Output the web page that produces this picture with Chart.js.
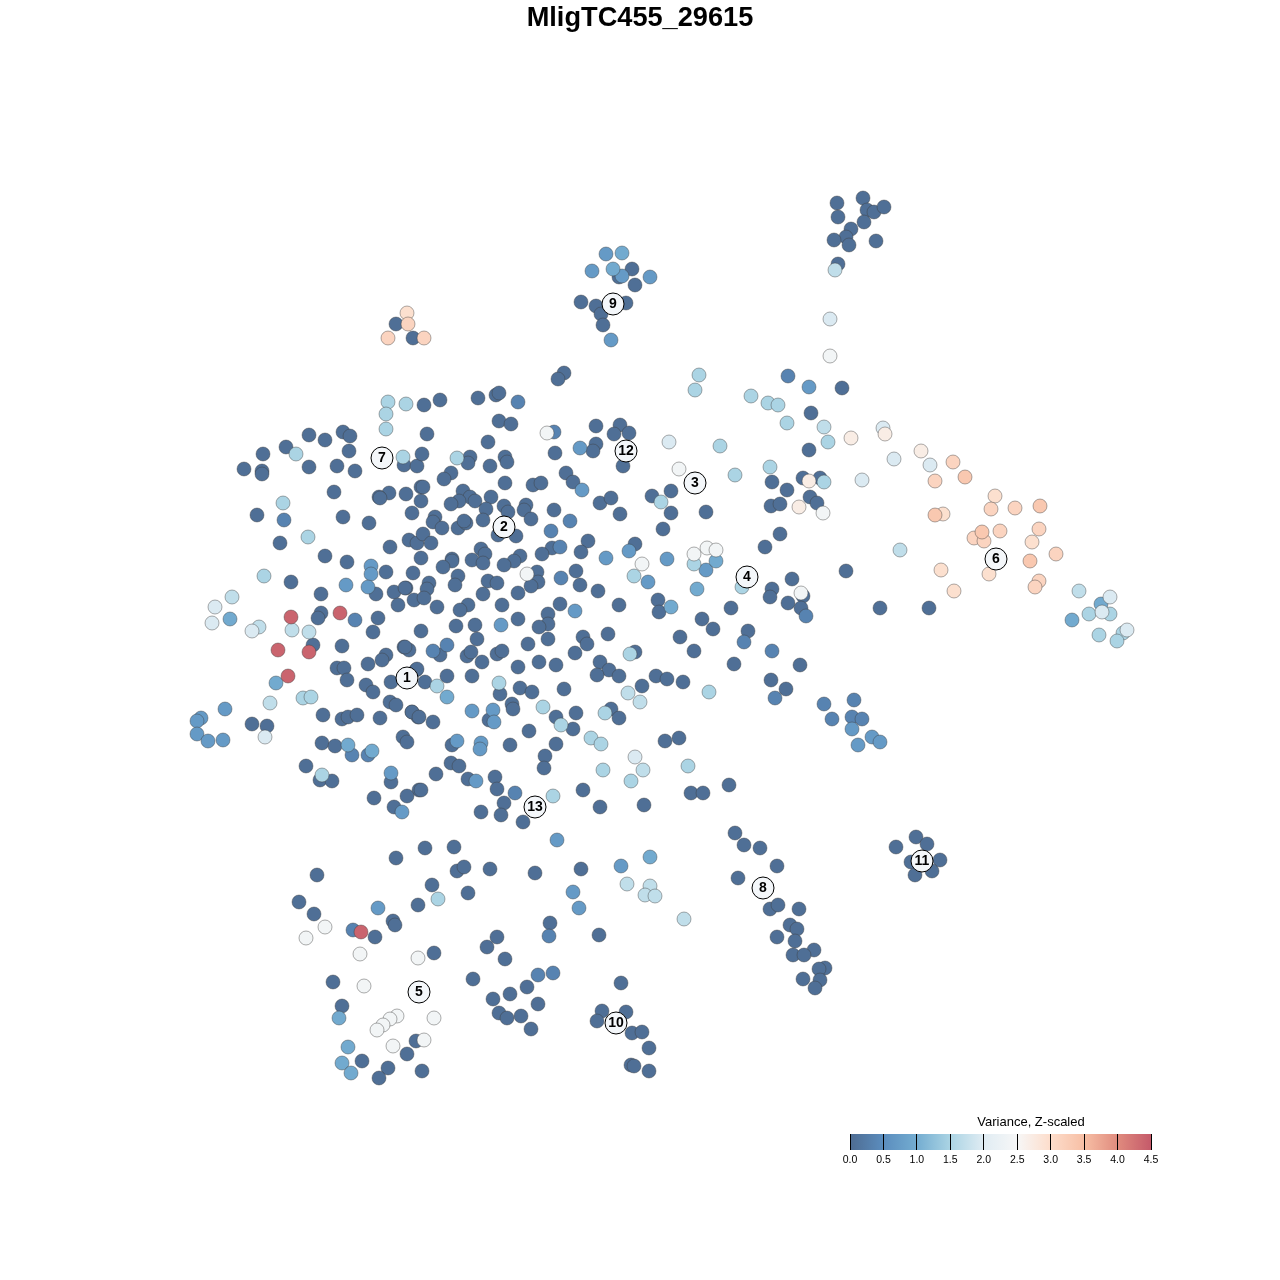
<!DOCTYPE html>
<html>
<head>
<meta charset="utf-8">
<title>MligTC455_29615</title>
<script src="https://cdn.jsdelivr.net/npm/chart.js@4/dist/chart.umd.min.js"></script>
<style>
    body { margin: 0; background: #fff; }
    #plot { position: absolute; left: 0; top: 0; }
    #key { position: absolute; left: 830px; top: 1105px; }
</style>
</head>
<body>
<canvas id="plot" width="1280" height="1280"></canvas>
<canvas id="key" width="402" height="61"></canvas>
<script>
// cells as [tsne x, tsne y], grouped by their variance level
const cellsDark = [
    [309,435],[325,440],[343,432],[350,436],[286,447],[263,454],[349,451],[244,469],[262,471],[262,474],[309,467],[337,466],[355,471],[334,492],[389,493],[379,497],[380,498],[406,494],[343,517],[369,523],[257,515],[280,543],[325,556],[347,562],[390,547],[386,572],[413,573],[291,582],[321,594],[376,594],[394,592],[406,588],[398,605],[414,600],[378,618],[321,613],[318,618],[404,465],[417,466],[412,513],[409,540],[417,543],[421,487],[421,501],[421,558],[422,454],
    [373,632],[313,645],[342,646],[404,647],[409,650],[386,655],[382,660],[368,664],[337,668],[344,668],[347,680],[366,685],[373,692],[391,682],[416,670],[390,702],[396,705],[323,715],[342,719],[348,717],[357,715],[380,718],[412,712],[418,717],[252,724],[267,726],[403,737],[407,742],[322,743],[335,746],[306,766],[320,780],[332,781],[391,782],[419,790],[407,796],[374,798],[394,807],
    [424,405],[440,400],[478,398],[496,395],[499,393],[564,373],[558,379],[499,421],[511,424],[427,434],[596,426],[620,425],[629,433],[614,434],[488,442],[596,444],[593,451],[555,453],[623,466],[470,457],[468,463],[490,466],[505,457],[507,462],[566,473],[573,482],[451,473],[444,479],[505,483],[533,485],[541,483],[423,487],[463,491],[470,497],[459,501],[451,504],[475,501],[491,497],[504,506],[508,512],[526,505],[524,510],[486,509],[554,510],[600,503],[611,498],[620,514],[483,520],[531,519],[435,517],[433,522],[442,528],[458,528],[466,523],[464,521],[498,535],[516,536],[423,534],[431,543],[588,541],[552,548],[542,554],[581,552],[635,544],[481,549],[485,554],[472,560],[483,563],[452,559],[452,561],[443,567],[520,556],[514,561],[504,565],[458,576],[455,585],[488,581],[497,583],[537,572],[538,582],[531,586],[576,571],[580,585],[598,591],[518,593],[483,594],[429,583],[427,589],[424,598],[405,588],[437,607],[468,605],[460,610],[502,605],[560,604],[619,605],[548,614],[518,619],
    [548,624],[539,627],[456,626],[475,625],[421,631],[477,639],[583,637],[587,644],[608,634],[528,644],[548,639],[575,653],[405,647],[440,655],[467,656],[471,652],[482,662],[497,654],[502,651],[518,667],[539,662],[556,665],[600,662],[609,670],[597,675],[619,676],[635,652],[417,669],[447,676],[472,676],[425,682],[500,694],[520,688],[532,692],[564,689],[611,709],[619,718],[576,713],[556,717],[573,729],[512,704],[513,709],[489,720],[412,712],[419,717],[433,722],[529,731],[556,744],[510,745],[452,745],[545,756],[544,768],[451,763],[459,766],[436,774],[468,779],[495,777],[497,789],[421,790],[583,790],[504,803],[600,807],[481,812],[501,815],[523,822],[644,805],
    [842,388],[811,413],[809,450],[772,482],[787,490],[803,478],[820,478],[652,496],[671,491],[671,513],[706,512],[663,529],[771,506],[780,504],[810,497],[817,503],[780,534],[765,547],[792,579],[846,571],[772,589],[770,597],[788,603],[803,596],[801,608],[731,608],[658,600],[659,612],[880,608],[929,608],
    [702,619],[713,629],[748,631],[680,637],[694,651],[734,664],[800,665],[656,676],[667,679],[683,682],[642,686],[771,680],[786,689],[665,741],[679,738],[729,785],[691,793],[703,793],[735,833],[744,845],[760,848],[777,866],[738,878],[916,837],[927,844],[896,847],[940,860],[911,862],[932,871],[915,875],
    [770,909],[778,905],[799,909],[790,925],[797,929],[777,937],[795,941],[814,950],[793,955],[804,955],[825,968],[819,969],[820,980],[803,979],[815,988],
    [396,858],[425,848],[454,847],[457,871],[464,867],[490,869],[535,873],[317,875],[432,885],[468,893],[299,902],[418,905],[314,914],[393,921],[395,925],[375,937],[497,937],[487,947],[434,953],[505,959],[333,982],[473,979],[527,987],[510,994],[493,999],[342,1006],[499,1013],[507,1018],[521,1016],[538,1004],[531,1029],[416,1041],[407,1054],[362,1061],[388,1068],[379,1078],[422,1071],
    [581,869],[550,923],[599,935],[621,983],[602,1011],[626,1012],[597,1021],[632,1033],[642,1032],[649,1048],[631,1065],[634,1066],[649,1071],
    [396,324],[413,338],[632,269],[635,285],[581,302],[596,306],[626,303],[601,314],[603,325],[619,277],
    [863,198],[837,203],[867,210],[874,212],[884,207],[838,217],[864,222],[851,229],[846,237],[834,240],[849,245],[876,241],[838,264]
];
const cellsBluish = [[284,520],[518,402],[554,432],[433,651],[447,645],[570,521],[551,531],[560,547],[561,578],[368,755],[352,755],[788,376],[772,651],[744,642],[775,698],[806,616],[824,704],[854,700],[832,719],[852,717],[862,719],[353,930],[538,975],[553,973],[549,936],[515,793],[355,620]];
const cellsMid = [[371,566],[371,574],[346,585],[368,587],[225,709],[201,718],[197,721],[197,734],[208,741],[223,740],[391,773],[402,812],[501,625],[472,711],[493,710],[494,722],[457,741],[481,743],[480,749],[476,781],[580,448],[582,490],[629,551],[606,558],[575,611],[667,559],[648,582],[706,570],[809,387],[852,729],[872,737],[880,742],[858,745],[606,254],[592,271],[622,276],[650,277],[611,340],[557,840],[378,908],[573,892],[579,908],[621,866]];
const cellsSky = [[230,619],[276,683],[348,745],[372,751],[697,589],[622,253],[613,269],[650,857],[339,1018],[348,1047],[342,1063],[351,1073],[1072,620],[716,561],[447,697],[671,607],[1101,604]];
const cellsPale = [[388,402],[406,404],[386,414],[386,429],[303,698],[311,697],[403,457],[457,458],[296,454],[308,537],[283,503],[264,576],[322,775],[437,686],[499,683],[543,707],[605,713],[561,725],[591,738],[601,744],[603,770],[631,781],[688,766],[553,796],[634,576],[661,502],[694,564],[699,375],[695,390],[751,396],[768,403],[778,405],[787,423],[828,442],[720,446],[770,467],[735,475],[824,482],[709,692],[630,654],[438,899],[1089,614],[1110,614],[1099,635],[1123,633],[1117,641],[742,587]];
const cellsPaler = [[232,597],[259,627],[292,630],[309,632],[270,703],[835,270],[628,693],[640,702],[643,770],[824,427],[627,884],[650,886],[645,895],[655,896],[684,919],[900,550],[1079,591]];
const cellsIce = [[215,607],[212,623],[252,631],[265,737],[669,442],[635,757],[830,319],[862,480],[894,459],[930,465],[1127,630],[1110,597],[1102,612],[883,428]];
const cellsWhite = [[547,433],[527,574],[642,564],[679,469],[707,548],[694,554],[716,550],[801,593],[823,513],[830,356],[325,927],[306,938],[360,954],[418,958],[364,986],[434,1018],[397,1016],[390,1019],[383,1025],[377,1030],[393,1046],[424,1040]];
const cellsBlush = [[885,434],[851,438],[921,451],[809,481],[799,507]];
const cellsPeach = [[995,496],[954,591],[941,570],[989,574],[1032,542],[407,313],[943,514]];
const cellsSalmon = [[953,462],[935,481],[991,509],[1015,508],[1039,529],[1000,531],[974,538],[984,541],[1056,554],[1039,581],[1035,587],[388,338],[424,338],[408,324]];
const cellsCoral = [[965,477],[1040,506],[935,515],[982,532],[1030,561]];
const cellsRed = [[291,617],[340,613],[309,652],[278,650],[288,676],[361,932]];

const levelValues = [0.05, 0.35, 0.7, 0.95, 1.5, 1.7, 1.95, 2.4, 2.7, 2.95, 3.15, 3.35, 4.4];
const levelCells = [cellsDark, cellsBluish, cellsMid, cellsSky, cellsPale, cellsPaler, cellsIce, cellsWhite, cellsBlush, cellsPeach, cellsSalmon, cellsCoral, cellsRed];

const clusterNames = ['1','2','3','4','5','6','7','8','9','10','11','12','13'];
const clusterX = [407,504,695,747,419,996,382,763,613,616,922,626,535];
const clusterY = [678,527,483,577,992,559,458,888,304,1023,861,451,807];

const keyTitle = 'Variance, Z-scaled';
const keyTicks = [0, 0.5, 1, 1.5, 2, 2.5, 3, 3.5, 4, 4.5];
const keyColors = ['#4e6c92','#5b8dbe','#74add1','#abd4e4','#e0ecf3','#f7f7f7','#fdddcb','#f7bfa5','#e08b7e','#c55a6a'];

function hexToRgb(hex) {
    return [1, 3, 5].map(i => parseInt(hex.slice(i, i + 2), 16));
}

function colorFor(value) {
    const pos = Math.min(value / 0.5, keyColors.length - 1.001);
    const i = Math.floor(pos);
    const a = hexToRgb(keyColors[i]);
    const b = hexToRgb(keyColors[i + 1]);
    const mix = a.map((c, k) => Math.round(c + (b[k] - c) * (pos - i)));
    return `rgb(${mix[0]}, ${mix[1]}, ${mix[2]})`;
}

// order: higher variance and the cluster circles have to end up on top
const cellDatasets = levelCells.map((cells, i) => ({
    label: 'Variance ' + levelValues[i],
    data: cells.map(c => ({ x: c[0], y: c[1] })),
    order: levelCells.length - i,
    backgroundColor: colorFor(levelValues[i]),
    borderColor: 'rgba(60, 60, 60, 0.42)',
    borderWidth: 1,
    pointRadius: 7,
    pointHoverRadius: 7
}));

const clusterDataset = {
    label: 'Clusters',
    data: clusterX.map((x, i) => ({ x: x, y: clusterY[i] })),
    order: 0,
    backgroundColor: '#f4f7fa',
    borderColor: '#000',
    borderWidth: 1,
    pointRadius: 11,
    pointHoverRadius: 11
};

// writes the cluster numbers on top of their circles
const clusterText = {
    id: 'clusterText',
    afterDatasetsDraw(chart) {
        const ctx = chart.ctx;
        ctx.save();
        ctx.font = 'bold 14px "Liberation Sans"';
        ctx.fillStyle = '#000';
        ctx.textAlign = 'center';
        ctx.textBaseline = 'middle';
        clusterNames.forEach((name, i) => {
            ctx.fillText(name, chart.scales.x.getPixelForValue(clusterX[i]), chart.scales.y.getPixelForValue(clusterY[i]) + 0.5);
        });
        ctx.restore();
    }
};

// key title sits at the middle of the canvas, not the middle of the bar
const keyHeading = {
    id: 'keyHeading',
    afterDraw(chart) {
        const ctx = chart.ctx;
        ctx.save();
        ctx.font = '13px "Liberation Sans"';
        ctx.fillStyle = '#000';
        ctx.textAlign = 'center';
        ctx.textBaseline = 'middle';
        ctx.fillText(keyTitle, chart.width / 2, 17.5);
        ctx.restore();
    }
};

new Chart(document.getElementById('plot'), {
    type: 'scatter',
    data: { datasets: [...cellDatasets, clusterDataset] },
    plugins: [clusterText],
    options: {
        responsive: false,
        animation: false,
        layout: { padding: 0, autoPadding: false },
        plugins: {
            legend: { display: false },
            tooltip: { enabled: false },
            title: {
                display: true,
                text: 'MligTC455_29615',
                color: '#000',
                font: { family: '"Liberation Sans"', size: 27.2, weight: 'bold', lineHeight: '32px' },
                padding: { top: 3, bottom: 1 }
            }
        },
        scales: {
            x: { display: false, min: 0, max: 1280 },
            y: { display: false, min: 36, max: 1280, reverse: true }
        }
    }
});

new Chart(document.getElementById('key'), {
    type: 'bar',
    data: {
        labels: ['Variance'],
        datasets: [{
            data: [[keyTicks[0], keyTicks[keyTicks.length - 1]]],
            barPercentage: 1,
            categoryPercentage: 1,
            backgroundColor(context) {
                const area = context.chart.chartArea;
                if (!area) return keyColors[0];
                const gradient = context.chart.ctx.createLinearGradient(area.left, 0, area.right, 0);
                keyColors.forEach((c, i) => gradient.addColorStop(i / (keyColors.length - 1), c));
                return gradient;
            }
        }]
    },
    plugins: [keyHeading],
    options: {
        indexAxis: 'y',
        responsive: false,
        animation: false,
        layout: { padding: { left: 20, right: 81, top: 29 }, autoPadding: false },
        plugins: {
            legend: { display: false },
            tooltip: { enabled: false }
        },
        scales: {
            x: {
                min: 0,
                max: 4.5,
                afterBuildTicks(axis) { axis.ticks = keyTicks.map(v => ({ value: v })); },
                border: { display: false },
                grid: { color: '#000', lineWidth: 1, drawTicks: false, z: 1 },
                ticks: {
                    color: '#000',
                    padding: 4,
                    maxRotation: 0,
                    font: { family: '"Liberation Sans"', size: 10.5 },
                    callback: v => v.toFixed(1)
                }
            },
            y: { display: false }
        }
    }
});
</script>
</body>
</html>
